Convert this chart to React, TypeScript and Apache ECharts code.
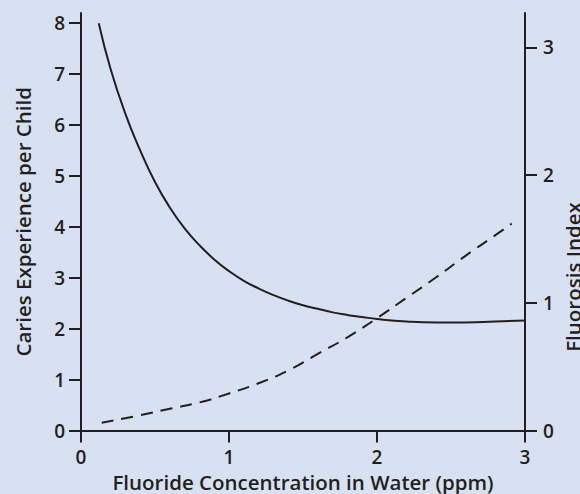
import React, { useEffect, useRef } from "react";
import * as echarts from "echarts";

const cariesX = [0.12, 0.2, 0.3, 0.4, 0.5, 0.6, 0.7, 0.8, 0.9, 1.0, 1.1, 1.2, 1.3, 1.4, 1.5, 1.6, 1.7, 1.8, 1.9, 2.0, 2.2, 2.4, 2.6, 2.8, 3.0];
const cariesY = [8.0, 7.1, 6.22, 5.5, 4.88, 4.38, 3.97, 3.64, 3.36, 3.13, 2.94, 2.79, 2.66, 2.55, 2.46, 2.39, 2.32, 2.27, 2.23, 2.19, 2.14, 2.12, 2.12, 2.14, 2.16];
const fluorosisX = [0.14, 0.4, 0.6, 0.8, 1.0, 1.2, 1.4, 1.6, 1.8, 2.0, 2.2, 2.4, 2.6, 2.8, 2.91];
const fluorosisY = [0.06, 0.12, 0.17, 0.22, 0.29, 0.37, 0.47, 0.6, 0.73, 0.88, 1.04, 1.2, 1.37, 1.53, 1.62];
const xTicks = [0, 1, 2, 3];
const leftTicks = [0, 1, 2, 3, 4, 5, 6, 7, 8];
const rightTicks = [0, 1, 2, 3];

const FONT = "'Open Sans', 'Noto Sans', sans-serif";
const INK = "#231f20";
const BG = "#d8e1f2";

export default function App() {
  const ref = useRef<HTMLDivElement>(null);
  useEffect(() => {
    document.body.style.margin = "0";
    const chart = echarts.init(ref.current!, null, { renderer: "svg" });
    const axisLine = { lineStyle: { color: INK, width: 2 } };
    const tick = (vals: number[]) => ({ show: true, length: 12, customValues: vals, lineStyle: { color: INK, width: 2 } });
    const label = (margin: number) => ({
      margin,
      showMaxLabel: false,
      color: INK,
      fontSize: 19,
      fontFamily: FONT,
      fontWeight: 600,
    });
    const nameStyle = { color: INK, fontSize: 20.5, fontFamily: FONT, fontWeight: 600 };
    chart.setOption({
      animation: false,
      backgroundColor: BG,
      grid: { left: 81, right: 55, top: 13, bottom: 63.5, containLabel: false, outerBoundsMode: "none" },
      xAxis: {
        type: "value",
        min: 0,
        max: 3,
        interval: 1,
        axisLine: { ...axisLine, onZero: false },
        axisTick: tick(xTicks),
        axisLabel: { ...label(17), showMaxLabel: true },
        splitLine: { show: false },
        name: "Fluoride Concentration in Water (ppm)",
        nameLocation: "middle",
        nameGap: 36,
        nameTextStyle: nameStyle,
      },
      yAxis: [
        {
          type: "value",
          min: 0,
          max: 8.2,
          interval: 1,
          position: "left",
          axisLine: { ...axisLine, show: true, onZero: false },
          axisTick: tick(leftTicks),
          axisLabel: label(16),
          splitLine: { show: false },
          name: "Caries Experience per Child",
          nameLocation: "middle",
          nameRotate: 90,
          nameGap: 48,
          nameTextStyle: nameStyle,
        },
        {
          type: "value",
          min: 0,
          max: 3.27,
          interval: 1,
          position: "right",
          axisLine: { ...axisLine, show: true, onZero: false },
          axisTick: tick(rightTicks),
          axisLabel: label(18),
          splitLine: { show: false },
        },
      ],
      graphic: [
        {
          type: "text",
          x: 573,
          y: 277,
          rotation: Math.PI / 2,
          style: {
            text: "Fluorosis Index",
            fill: INK,
            fontSize: 20.5,
            fontFamily: FONT,
            fontWeight: 600,
            align: "center",
            verticalAlign: "middle",
          },
        },
      ],
      series: [
        {
          type: "line",
          yAxisIndex: 0,
          smooth: true,
          showSymbol: false,
          data: cariesX.map((x, i) => [x, cariesY[i]]),
          lineStyle: { color: INK, width: 2 },
        },
        {
          type: "line",
          yAxisIndex: 1,
          smooth: true,
          showSymbol: false,
          data: fluorosisX.map((x, i) => [x, fluorosisY[i]]),
          lineStyle: { color: INK, width: 2, type: [12, 8] },
        },
      ],
    });
    return () => chart.dispose();
  }, []);
  return <div ref={ref} style={{ position: "absolute", left: 0, top: 0, width: 580, height: 494 }} />;
}
